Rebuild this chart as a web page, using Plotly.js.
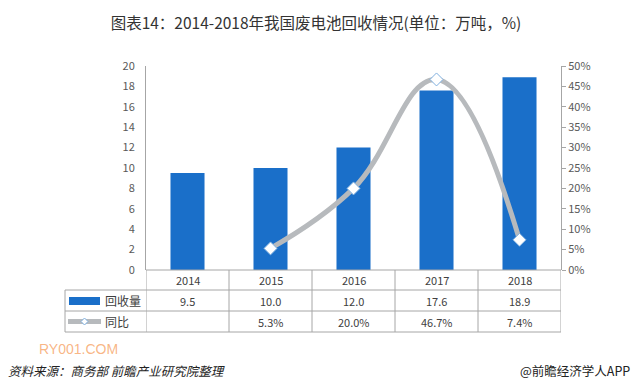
<!DOCTYPE html>
<html><head><meta charset="utf-8">
<script src="https://cdn.plot.ly/plotly-3.0.1.min.js"></script>
<style>html,body{margin:0;padding:0;background:#fff}#chart{width:632px;height:388px}</style>
</head><body><div id="chart"></div>
<script>
const years = ['2014','2015','2016','2017','2018'];
const recovery = [9.5, 10.0, 12.0, 17.6, 18.9];
const yoy = [null, 0.053, 0.200, 0.467, 0.074];
const recoveryLabel = '回收量';
const yoyLabel = '同比';

const L = 146, R = 561, T = 66, B = 270, W = 632, H = 388;
const ph = B - T, pw = R - L;
const py = p => (B - p) / ph;     // pixel y -> paper y
const px = p => (p - L) / pw;     // pixel x -> paper x
const grid = '#a6a6a6';
const font = 'Noto Sans CJK SC, Noto Sans, sans-serif';

const shapes = [];
const ann = [];
// horizontal table lines
shapes.push({type:'line', xref:'paper', yref:'paper', x0:0, x1:1, y0:py(270), y1:py(270), line:{color:grid, width:1}});
[290, 311, 332].forEach(y => shapes.push({type:'line', xref:'paper', yref:'paper', x0:px(65), x1:1, y0:py(y), y1:py(y), line:{color:grid, width:1}}));
// vertical table lines
for (let i = 0; i <= years.length; i++) {
  shapes.push({type:'line', xref:'x', yref:'paper', x0:i-0.5, x1:i-0.5, y0:py(270), y1:py(332), line:{color:grid, width:1}});
}
shapes.push({type:'line', xref:'paper', yref:'paper', x0:px(65), x1:px(65), y0:py(290), y1:py(332), line:{color:grid, width:1}});
// legend symbols
shapes.push({type:'rect', xref:'paper', yref:'paper', x0:px(69), x1:px(100), y0:py(305), y1:py(297), fillcolor:'#1a6fc9', line:{width:0}});
shapes.push({type:'line', xref:'paper', yref:'paper', x0:px(68), x1:px(101), y0:py(321.5), y1:py(321.5), line:{color:'#b7babd', width:5}});
shapes.push({type:'path', xref:'paper', yref:'paper',
  path:`M ${px(84.5)} ${py(318)} L ${px(88)} ${py(321.5)} L ${px(84.5)} ${py(325)} L ${px(81)} ${py(321.5)} Z`,
  fillcolor:'#ffffff', line:{color:'#7fb0e0', width:1}});

const cell = {showarrow:false, font:{family:font, size:11, color:'#404040'}, yref:'paper', xref:'x', xanchor:'center', yanchor:'middle'};
years.forEach((y, i) => {
  ann.push(Object.assign({}, cell, {x:i, y:py(280), text:y}));
  ann.push(Object.assign({}, cell, {x:i, y:py(300.5), text:recovery[i].toFixed(1)}));
  if (yoy[i] !== null) ann.push(Object.assign({}, cell, {x:i, y:py(321.5), text:(yoy[i]*100).toFixed(1)+'%'}));
});
ann.push({xref:'paper', yref:'paper', x:px(103), y:py(300.5), xanchor:'left', yanchor:'middle', text:recoveryLabel, showarrow:false, font:{family:font, size:12, color:'#404040'}});
ann.push({xref:'paper', yref:'paper', x:px(103), y:py(321.5), xanchor:'left', yanchor:'middle', text:yoyLabel, showarrow:false, font:{family:font, size:12, color:'#404040'}});
// footer
ann.push({xref:'paper', yref:'paper', x:px(38), y:py(349), xanchor:'left', yanchor:'middle', text:'RY001.COM', showarrow:false, borderpad:0, font:{family:'Liberation Sans, sans-serif', size:14, color:'rgba(245,150,80,0.7)'}});
ann.push({xref:'paper', yref:'paper', x:px(7), y:py(370), xanchor:'left', yanchor:'middle', text:'<i>资料来源：商务部 前瞻产业研究院整理</i>', showarrow:false, borderpad:0, font:{family:font, size:12.5, color:'#222'}});
ann.push({xref:'paper', yref:'paper', x:px(632), y:py(370), xanchor:'right', yanchor:'middle', text:'@前瞻经济学人APP', showarrow:false, font:{family:font, size:12.5, color:'#222'}});

const traces = [
  {type:'bar', x:years, y:recovery, name:recoveryLabel, marker:{color:'#1a6fc9'}, width:0.41, hoverinfo:'skip'},
  {type:'scatter', mode:'lines+markers', x:years, y:yoy, name:yoyLabel, yaxis:'y2', connectgaps:false,
   line:{color:'#b7babd', width:5, shape:'spline', smoothing:1.2},
   marker:{symbol:'diamond', size:10, color:'#ffffff', line:{color:'#7fb0e0', width:1}}, hoverinfo:'skip'}
];

const layout = {
  width:W, height:H,
  margin:{l:L, r:W-R, t:T, b:H-B, pad:0},
  paper_bgcolor:'#fff', plot_bgcolor:'#fff',
  showlegend:false, bargap:0.59,
  title:{text:'图表14：2014-2018年我国废电池回收情况(单位：万吨，%)', x:0.5, xref:'container', xanchor:'center', y:1-24/H, yref:'container', yanchor:'middle', font:{family:font, size:15.5, color:'#333'}},
  xaxis:{type:'category', range:[-0.5, 4.5], showticklabels:false, ticks:'', showline:false, showgrid:false, zeroline:false, fixedrange:true},
  yaxis:{range:[0,20], dtick:2, showgrid:false, zeroline:false, showline:true, linecolor:grid, linewidth:1, ticks:'', ticklabelstandoff:8,
         tickfont:{family:font, size:11, color:'#595959'}},
  yaxis2:{range:[0,0.5], dtick:0.05, tickformat:'.0%', overlaying:'y', side:'right', showgrid:false, zeroline:false,
          showline:true, linecolor:grid, linewidth:1, ticks:'outside', ticklen:4, tickcolor:grid,
          tickfont:{family:font, size:11, color:'#595959'}},
  shapes:shapes, annotations:ann
};
Plotly.newPlot('chart', traces, layout, {staticPlot:true, displayModeBar:false});
</script></body></html>
